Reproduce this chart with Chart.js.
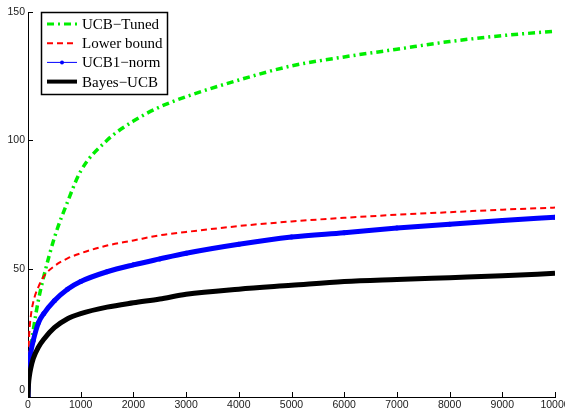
<!DOCTYPE html>
<html>
<head>
<meta charset="utf-8">
<script src="https://cdn.jsdelivr.net/npm/chart.js@4/dist/chart.umd.min.js"></script>
<style>
  html, body { margin: 0; padding: 0; background: #fff; }
  #wrap { width: 565px; height: 410px; }
</style>
</head>
<body>
<div id="wrap"><canvas id="regret" width="565" height="410"></canvas></div>
<script>
const steps = [0, 10, 25, 50, 100, 200, 300, 500, 750, 1000, 1500, 2000, 2500, 3000, 4000, 5000, 6000, 7000, 8000, 9000, 10000];

const ucbTuned   = [0, 6, 12, 18, 26, 38, 47, 62, 76, 88, 100, 107.5, 113, 117, 123.5, 129, 132.5, 135.5, 138.5, 140.8, 142.5];
const lowerBound = [0, 17, 25, 31, 37, 43, 47, 51, 54, 56, 59, 61, 63, 64.3, 66.6, 68.4, 69.8, 71, 72, 73, 73.8];
const ucb1Norm   = [0, 8, 13, 17, 22, 29, 32.5, 37.5, 42, 45, 48.8, 51.5, 53.8, 56, 59.5, 62.3, 64, 65.8, 67.3, 68.8, 70];
const bayesUcb   = [0, 5, 8, 11, 15, 19.5, 22.5, 27, 30.5, 32.5, 35, 36.7, 38.2, 40, 42, 43.5, 45, 45.8, 46.5, 47.2, 48.2];

const xTicks = [0, 1000, 2000, 3000, 4000, 5000, 6000, 7000, 8000, 9000, 10000];
const yTicks = [0, 50, 100, 150];

const labels = ["UCB\u2212Tuned", "Lower bound", "UCB1\u2212norm", "Bayes\u2212UCB"];

const tickFont = "'Liberation Sans Narrow', 'Liberation Sans', Arial, sans-serif";
const tickSize = 10.5;

function toPoints(values) {
  return steps.map((s, i) => ({ x: s, y: values[i] }));
}

// MATLAB-like inward tick marks, plus the lifted "0" on the y axis
const inwardTicks = {
  id: "inwardTicks",
  afterDraw(chart) {
    const ctx = chart.ctx;
    const xs = chart.scales.x;
    const ys = chart.scales.y;
    const area = chart.chartArea;
    ctx.save();
    ctx.strokeStyle = "#000";
    ctx.lineWidth = 1;
    ctx.beginPath();
    xTicks.forEach(t => {
      const px = Math.round(xs.getPixelForValue(t)) + 0.5;
      ctx.moveTo(px, area.bottom);
      ctx.lineTo(px, area.bottom - 5);
    });
    yTicks.forEach(t => {
      const py = Math.round(ys.getPixelForValue(t)) + 0.5;
      ctx.moveTo(area.left, py);
      ctx.lineTo(area.left + 5, py);
    });
    ctx.stroke();

    ctx.fillStyle = "#222";
    ctx.font = tickSize + "px " + tickFont;
    ctx.textAlign = "right";
    ctx.textBaseline = "middle";
    ctx.fillText(String(yTicks[0]), area.left - 3, ys.getPixelForValue(yTicks[0]) - 7);
    ctx.restore();
  }
};

// boxed legend in the top-left corner
const boxLegend = {
  id: "boxLegend",
  afterDraw(chart) {
    const ctx = chart.ctx;
    const box = { x: 41, y: 12, w: 126, h: 82 };
    ctx.save();
    ctx.fillStyle = "#fff";
    ctx.fillRect(box.x, box.y, box.w, box.h);
    ctx.strokeStyle = "#000";
    ctx.lineWidth = 1.5;
    ctx.strokeRect(box.x + 0.5, box.y + 0.5, box.w, box.h);

    ctx.font = "15px 'Liberation Serif', 'DejaVu Serif', serif";
    ctx.textBaseline = "middle";
    chart.data.datasets.forEach((ds, i) => {
      const y = 24 + i * 19.2;
      ctx.strokeStyle = ds.borderColor;
      ctx.lineWidth = ds.legendWidth;
      ctx.setLineDash(ds.borderDash || []);
      ctx.beginPath();
      ctx.moveTo(47, y);
      ctx.lineTo(77, y);
      ctx.stroke();
      ctx.setLineDash([]);
      if (ds.legendMarker) {
        ctx.fillStyle = ds.borderColor;
        ctx.beginPath();
        ctx.arc(62, y, 2, 0, Math.PI * 2);
        ctx.fill();
      }
      ctx.fillStyle = "#000";
      ctx.fillText(ds.label, 82, y + 1);
    });
    ctx.restore();
  }
};

const ctx = document.getElementById("regret").getContext("2d");
new Chart(ctx, {
  type: "line",
  data: {
    datasets: [
      {
        label: labels[0],
        data: toPoints(ucbTuned),
        borderColor: "#00ee00",
        borderWidth: 3.5,
        borderDash: [7, 4, 2, 4],
        legendWidth: 3,
        pointRadius: 0,
        order: 4
      },
      {
        label: labels[1],
        data: toPoints(lowerBound),
        borderColor: "#ff0000",
        borderWidth: 2,
        borderDash: [6, 4],
        legendWidth: 2,
        pointRadius: 0,
        order: 3
      },
      {
        label: labels[2],
        data: toPoints(ucb1Norm),
        borderColor: "#0000ff",
        backgroundColor: "#0000ff",
        borderWidth: 5,
        legendWidth: 1,
        legendMarker: true,
        pointRadius: 2.5,
        pointBorderWidth: 0,
        order: 2
      },
      {
        label: labels[3],
        data: toPoints(bayesUcb),
        borderColor: "#000000",
        borderWidth: 5,
        legendWidth: 4,
        pointRadius: 0,
        order: 1
      }
    ]
  },
  options: {
    responsive: false,
    animation: false,
    devicePixelRatio: 1,
    cubicInterpolationMode: "monotone",
    layout: { padding: { top: 12, right: 10, left: 0, bottom: 0 } },
    plugins: {
      legend: { display: false },
      tooltip: { enabled: false }
    },
    scales: {
      x: {
        type: "linear",
        min: 0,
        max: 10000,
        grid: { display: false, drawTicks: false },
        border: { display: true, color: "#000", width: 1 },
        ticks: {
          stepSize: 1000,
          padding: 2,
          maxRotation: 0,
          autoSkip: false,
          color: "#222",
          font: { family: tickFont, size: tickSize },
          callback: v => String(v)
        },
        afterFit(scale) {
          scale.height = 13;
          scale.paddingLeft = 0;
          scale.paddingRight = 0;
        }
      },
      y: {
        min: 0,
        max: 150,
        grid: { display: false, drawTicks: false },
        border: { display: true, color: "#000", width: 1 },
        ticks: {
          stepSize: 50,
          padding: 3,
          color: "#222",
          font: { family: tickFont, size: tickSize },
          callback: v => (v === 0 ? "" : String(v))
        },
        afterFit(scale) {
          scale.width = 28;
          scale.paddingTop = 0;
          scale.paddingBottom = 0;
        }
      }
    }
  },
  plugins: [inwardTicks, boxLegend]
});
</script>
</body>
</html>
